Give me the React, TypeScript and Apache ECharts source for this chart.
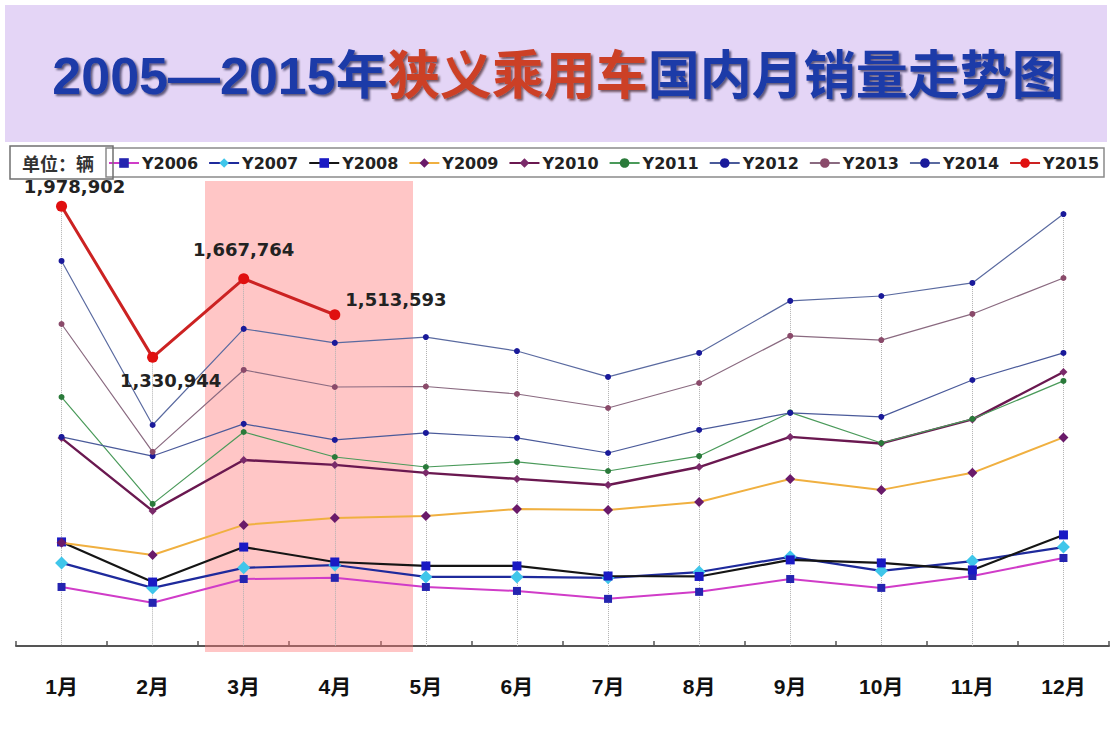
import React, { useEffect, useRef } from "react";
import * as echarts from "echarts";

const months = ["1月", "2月", "3月", "4月", "5月", "6月", "7月", "8月", "9月", "10月", "11月", "12月"];
const seriesNames = ["Y2006", "Y2007", "Y2008", "Y2009", "Y2010", "Y2011", "Y2012", "Y2013", "Y2014", "Y2015"];

const y2006 = [347000, 279000, 381000, 386000, 347000, 330000, 296000, 326000, 381000, 343000, 394000, 471000];
const y2007 = [450000, 343000, 429000, 441000, 390000, 390000, 386000, 411000, 476000, 416000, 458000, 518000];
const y2008 = [540000, 368000, 518000, 454000, 437000, 437000, 394000, 392000, 463000, 450000, 420000, 570000];
const y2009 = [536000, 484000, 613000, 643000, 651000, 681000, 677000, 711000, 810000, 763000, 836000, 988000];
const y2010 = [985000, 673000, 891000, 870000, 836000, 810000, 784000, 861000, 990000, 962000, 1065000, 1268000];
const y2011 = [1161000, 703000, 1011000, 904000, 861000, 883000, 844000, 908000, 1095000, 964000, 1067000, 1230000];
const y2012 = [990000, 908000, 1046000, 977000, 1007000, 986000, 921000, 1020000, 1093000, 1076000, 1234000, 1350000];
const y2013 = [1474000, 926000, 1277000, 1204000, 1206000, 1174000, 1114000, 1221000, 1423000, 1405000, 1517000, 1671000];
const y2014 = [1744000, 1041000, 1453000, 1393000, 1418000, 1358000, 1247000, 1350000, 1573000, 1594000, 1650000, 1945000];
const y2015 = [1978902, 1330944, 1667764, 1513593];

const allData = [y2006, y2007, y2008, y2009, y2010, y2011, y2012, y2013, y2014, y2015];

const Y_MIN = 94000;
const Y_MAX = 2091000;

const styles = [
  { line: "#d03cc8", width: 2, symbol: "rect", size: 8, color: "#2424b0" },
  { line: "#1e2a9c", width: 2.2, symbol: "diamond", size: 13, color: "#3fc6ea" },
  { line: "#151515", width: 2.2, symbol: "rect", size: 9, color: "#1a1ac4" },
  { line: "#f0b040", width: 2, symbol: "diamond", size: 10, color: "#6a1a6a" },
  { line: "#6a1850", width: 2.4, symbol: "diamond", size: 8, color: "#7a2a6a" },
  { line: "#4a9a5a", width: 1.2, symbol: "circle", size: 6, color: "#2a7a3a" },
  { line: "#4a5a9a", width: 1.2, symbol: "circle", size: 6, color: "#1a1a9a" },
  { line: "#8a6a80", width: 1.2, symbol: "circle", size: 6, color: "#8a4a6a" },
  { line: "#5a6aa0", width: 1.2, symbol: "circle", size: 6, color: "#1a1a9a" },
  { line: "#cc2222", width: 3, symbol: "circle", size: 11, color: "#e01010" },
];

const labelPlacement: any[] = [
  { position: "top", offset: [13, 0] },
  { position: "bottom", offset: [18, 4] },
  { position: "top", offset: [0, -10] },
  { position: "right", offset: [0, -15] },
];

export default function App() {
  const ref = useRef<HTMLDivElement>(null);

  useEffect(() => {
    if (!ref.current) return;
    const chart = echarts.init(ref.current, null, { renderer: "svg" });

    const maxes = months.map((_, i) => {
      let m = -Infinity;
      allData.forEach((arr) => {
        if (arr[i] !== undefined && arr[i] > m) m = arr[i];
      });
      return m;
    });

    const series: any[] = allData.map((arr, si) => {
      const st = styles[si];
      const s: any = {
        name: seriesNames[si],
        type: "line",
        data:
          si === 9
            ? arr.map((v, i) => ({
                value: v,
                label: {
                  show: true,
                  position: labelPlacement[i].position,
                  offset: labelPlacement[i].offset,
                },
              }))
            : arr,
        symbol: st.symbol,
        symbolSize: st.size,
        showAllSymbol: true,
        lineStyle: { color: st.line, width: st.width },
        itemStyle: { color: st.color, borderWidth: 0 },
        z: 2 + si * 0.01,
        label: {
          show: false,
          formatter: (p: any) => Number(p.value).toLocaleString("en-US"),
          fontFamily: "DejaVu Sans",
          fontWeight: "bold",
          fontSize: 18,
          color: "#222",
        },
        emphasis: { disabled: true },
      };
      if (si === 0) {
        s.markLine = {
          silent: true,
          symbol: ["none", "none"],
          label: { show: false },
          lineStyle: { color: "#b0b0b0", type: "dotted", width: 1 },
          data: months.map((m, i) => [
            { coord: [m, maxes[i]] },
            { coord: [m, Y_MIN] },
          ]),
          z: 1,
        };
      }
      return s;
    });

    chart.setOption({
      animation: false,
      backgroundColor: "#ffffff",
      grid: { left: 16, right: 1, top: 180, bottom: 89 },
      xAxis: {
        type: "category",
        data: months,
        boundaryGap: true,
        axisLine: { lineStyle: { color: "#555", width: 2 } },
        axisTick: { show: true, inside: true, length: 5, lineStyle: { color: "#555", width: 1.5 } },
        axisLabel: {
          margin: 30,
          fontSize: 21,
          fontWeight: "bold",
          color: "#111",
          fontFamily: "Liberation Sans, Noto Sans CJK SC",
        },
        splitLine: { show: false },
      },
      yAxis: { type: "value", min: Y_MIN, max: Y_MAX, show: false },
      legend: {
        data: seriesNames,
        left: 108,
        top: 155,
        padding: 0,
        itemWidth: 30,
        itemHeight: 12,
        itemGap: 10,
        textStyle: { fontFamily: "DejaVu Sans", fontWeight: "bold", fontSize: 16, color: "#222", padding: [0, 0, 0, -2] },
        selectedMode: false,
      },
      graphic: [
        {
          type: "rect",
          z: -10,
          silent: true,
          shape: { x: 5, y: 5, width: 1102, height: 137 },
          style: { fill: "#e4d5f6" },
        },
        {
          type: "text",
          z: 10,
          silent: true,
          x: 558,
          y: 76,
          style: {
            text: "{a|2005—2015年}{b|狭义乘用车}{a|国内月销量走势图}",
            align: "center",
            verticalAlign: "middle",
            rich: {
              a: {
                fontSize: 52,
                fontWeight: "bold",
                fontFamily: "Liberation Sans, Noto Sans CJK SC",
                fill: "#1f3aa8",
                textShadowColor: "rgba(0,0,40,0.6)",
                textShadowOffsetX: 2,
                textShadowOffsetY: 2,
                textShadowBlur: 2,
              },
              b: {
                fontSize: 52,
                fontWeight: "bold",
                fontFamily: "Liberation Sans, Noto Sans CJK SC",
                fill: "#cc4028",
                textShadowColor: "rgba(40,0,0,0.6)",
                textShadowOffsetX: 2,
                textShadowOffsetY: 2,
                textShadowBlur: 2,
              },
            },
          },
        },
        {
          type: "rect",
          z: 5,
          silent: true,
          shape: { x: 106, y: 148, width: 998, height: 29 },
          style: { fill: "none", stroke: "#8a8a8a", lineWidth: 1.5 },
        },
        {
          type: "rect",
          z: 5,
          silent: true,
          shape: { x: 10, y: 146, width: 103, height: 33 },
          style: { fill: "none", stroke: "#707070", lineWidth: 1.5 },
        },
        {
          type: "text",
          z: 6,
          silent: true,
          x: 22,
          y: 163,
          style: {
            text: "单位：辆",
            fontSize: 18,
            fontWeight: "bold",
            fontFamily: "Noto Sans CJK SC",
            fill: "#333",
            verticalAlign: "middle",
          },
        },
        {
          type: "rect",
          z: 1,
          silent: true,
          shape: { x: 205, y: 181, width: 208, height: 471 },
          style: { fill: "rgba(255,120,120,0.42)" },
        },
      ],
      series,
    });

    return () => chart.dispose();
  }, []);

  return (
    <div
      ref={ref}
      style={{ position: "fixed", left: 0, top: 0, width: 1110, height: 735, background: "#fff" }}
    />
  );
}
